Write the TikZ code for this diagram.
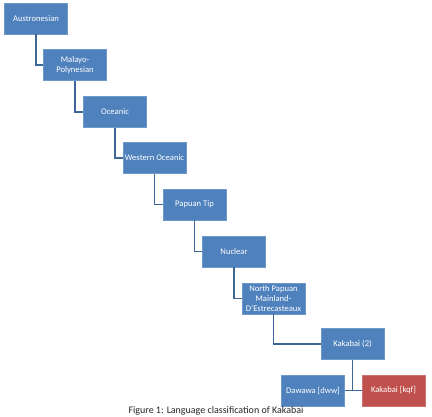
\documentclass[tikz,border=0pt]{standalone}
\usepackage{fontspec}
\setmainfont{Carlito}
\definecolor{boxblue}{HTML}{4F81BD}
\definecolor{boxedge}{HTML}{6F98CB}
\definecolor{boxred}{HTML}{C0504D}
\definecolor{redge}{HTML}{D07370}
\definecolor{linkblue}{HTML}{3C6797}
\begin{document}
\begin{tikzpicture}[x=1pt,y=-1pt,
  tbox/.style={draw=boxedge,line width=0.6pt,fill=boxblue,text=white,minimum width=63pt,minimum height=31pt,inner sep=1pt,align=center,font=\fontsize{8.6}{10}\selectfont},
  rbox/.style={tbox,fill=boxred,draw=redge},
  link/.style={draw=linkblue,line width=1.8pt}]
\useasboundingbox (0,0) rectangle (432,416);
\node[tbox] (a) at (36,18.5) {Austronesian};
\node[tbox] (b) at (75,65) {Malayo-\\Polynesian};
\node[tbox] (c) at (115,112) {Oceanic};
\node[tbox] (d) at (154.5,158) {Western Oceanic};
\node[tbox] (e) at (194.5,204.5) {Papuan Tip};
\node[tbox] (f) at (234,251.5) {Nuclear};
\node[tbox] (g) at (273.5,298.5) {North Papuan\\Mainland-\\D'Estrecasteaux};
\node[tbox] (h) at (352.5,344) {Kakabai (2)};
\node[tbox] (i) at (313,390.5) {Dawawa [dww]};
\node[rbox] (j) at (393.5,390.5) {Kakabai [kqf]};
\draw[link] (a.south) |- (b.west);
\draw[link] (b.south) |- (c.west);
\draw[link] (c.south) |- (d.west);
\draw[link] (d.south) |- (e.west);
\draw[link] (e.south) |- (f.west);
\draw[link] (f.south) |- (g.west);
\draw[link] (g.south) |- (h.west);
\draw[link] (i.east) -- (j.west);
\draw[link] (h.south) -- (h.south |- i.east);
\node[anchor=north,font=\fontsize{10}{12}\selectfont,text=black!85,inner sep=0pt] (cap) at (216,406.2) {Figure 1: Language classification of Kakabai};
\end{tikzpicture}
\end{document}
